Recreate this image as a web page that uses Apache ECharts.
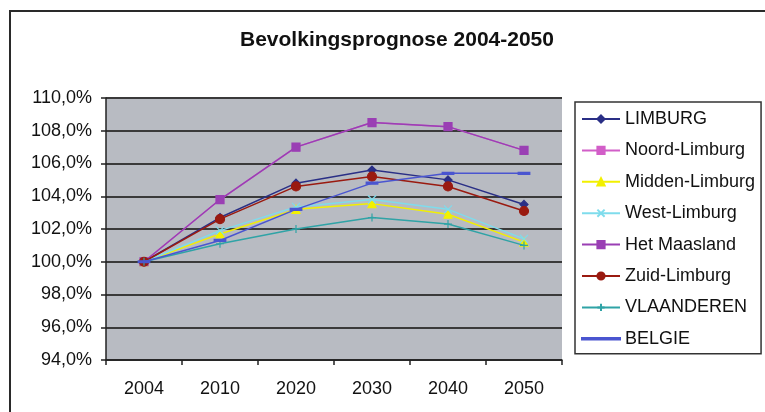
<!DOCTYPE html>
<html>
<head>
<meta charset="utf-8">
<script src="https://cdn.jsdelivr.net/npm/echarts@6/dist/echarts.min.js"></script>
<style>
html,body{margin:0;padding:0;background:#fff;}
#c{width:765px;height:412px;}
</style>
</head>
<body>
<div id="c"></div>
<script>
var categories = ['2004','2010','2020','2030','2040','2050'];
var yTicks = [94,96,98,100,102,104,106,108,110];
var limburg      = [100, 102.7, 104.8, 105.6, 105.0, 103.5];
var noordLimburg = [100, 103.8, 107.0, 108.5, 108.25, 106.8];
var middenLimburg= [100, 101.7, 103.2, 103.55, 102.9, 101.2];
var westLimburg  = [100, 101.9, 103.35, 103.8, 103.2, 101.4];
var hetMaasland  = [100, 103.8, 107.0, 108.5, 108.25, 106.8];
var zuidLimburg  = [100, 102.6, 104.6, 105.2, 104.6, 103.1];
var vlaanderen   = [100, 101.1, 102.0, 102.7, 102.3, 101.0];
var belgie       = [100, 101.3, 103.2, 104.8, 105.4, 105.4];

var seriesNames = ['LIMBURG','Noord-Limburg','Midden-Limburg','West-Limburg','Het Maasland','Zuid-Limburg','VLAANDEREN','BELGIE'];
var seriesData = [limburg, noordLimburg, middenLimburg, westLimburg, hetMaasland, zuidLimburg, vlaanderen, belgie];
var colors = ['#2a2f86','#d25ec8','#f2f000','#7fdcec','#9a3fb4','#9a1a10','#2fa3a6','#4a55d0'];
var xPath = 'path://M0,0L10,10M10,0L0,10';
var plusPath = 'path://M5,0L5,10M0,5L10,5';
var dashPath = 'path://M0,4L10,4L10,6L0,6Z';
var symbols = ['diamond','rect','triangle',xPath,'rect','circle',plusPath,dashPath];
var sizes = [8,7,8,8,8,9,8,[8,2]];

var series = seriesNames.map(function(n,i){
  return {
    name: n, type: 'line', data: seriesData[i],
    symbol: symbols[i], symbolSize: sizes[i], showSymbol: true,
    lineStyle: {width: 1.5, color: colors[i]},
    itemStyle: {color: colors[i], borderColor: colors[i], borderWidth: 1.2},
    emphasis: {disabled: true},
    z: 3 + i
  };
});

var legendData = seriesNames.map(function(n){
  if (n === 'BELGIE') return {name: n, icon: 'path://M0,4.3L38,4.3L38,5.7L0,5.7Z'};
  return {name: n};
});

var chart = echarts.init(document.getElementById('c'));
chart.setOption({
  animation: false,
  color: colors,
  title: {
    text: 'Bevolkingsprognose 2004-2050',
    left: 392, top: 25, textAlign: 'center',
    textStyle: {fontFamily: 'Liberation Sans, Arial', fontWeight: 'bold', fontSize: 21, color: '#111'}
  },
  graphic: [{
    type: 'rect', shape: {x: 10, y: 11, width: 800, height: 500},
    style: {fill: 'none', stroke: '#2a2a2a', lineWidth: 2}, silent: true, z: -1
  }],
  legend: {
    orient: 'vertical', left: 575, top: 102,
    itemWidth: 38, itemHeight: 9, itemGap: 13.4,
    padding: [8, 6, 6, 6],
    borderColor: '#333', borderWidth: 1.5,
    textStyle: {fontFamily: 'Liberation Sans, Arial', fontSize: 18, color: '#111'},
    data: legendData
  },
  grid: {left: 106, right: 203, top: 98, bottom: 52, show: true, backgroundColor: '#b8bbc2', borderWidth: 0},
  xAxis: {
    type: 'category', data: categories, boundaryGap: true,
    axisLine: {lineStyle: {color: '#222', width: 1.5}},
    axisTick: {show: true, inside: false, length: 5, lineStyle: {color: '#222', width: 1.5}},
    axisLabel: {fontFamily: 'Liberation Sans, Arial', fontSize: 18, color: '#111', margin: 20}
  },
  yAxis: {
    type: 'value', min: 94, max: 110, interval: 2,
    axisLine: {show: true, lineStyle: {color: '#222', width: 1.5}},
    axisTick: {show: true, length: 5, lineStyle: {color: '#222', width: 1.5}},
    axisLabel: {fontFamily: 'Liberation Sans, Arial', fontSize: 18, color: '#111', margin: 14,
      formatter: function(v){ return v.toFixed(1).replace('.', ',') + '%'; }},
    splitLine: {show: true, lineStyle: {color: '#3a3a3a', width: 2}}
  },
  series: series
});
</script>
</body>
</html>
